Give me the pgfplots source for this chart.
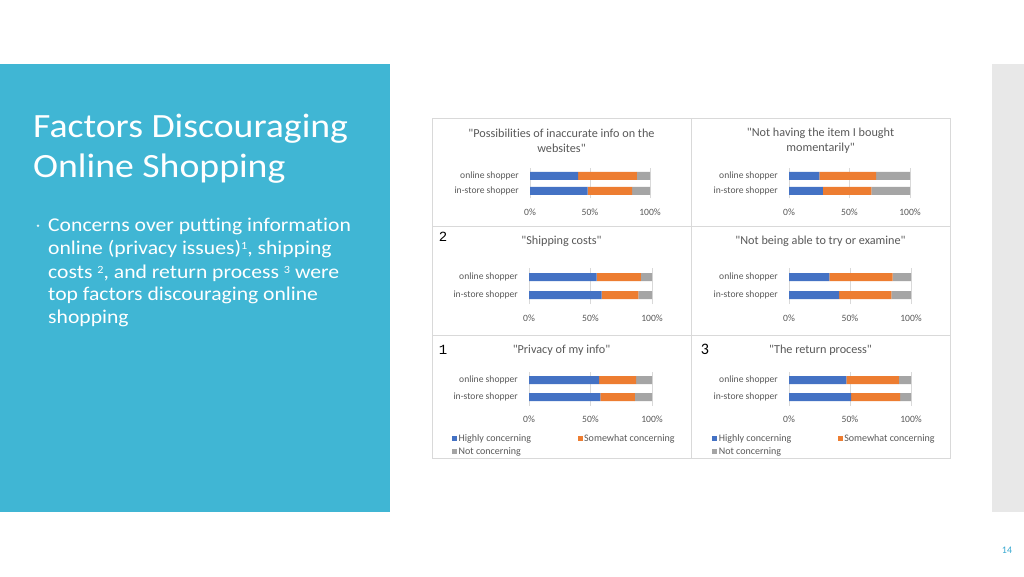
\documentclass[border=0pt]{standalone}
\usepackage{pgfplots}
\pgfplotsset{compat=1.18}
\usepackage{fontspec}
\setmainfont{Carlito}[Ligatures={NoCommon}]
\newfontfamily\slidefont[FakeStretch=1.11, Ligatures={NoCommon}]{Carlito}
\newfontfamily\monofont{Liberation Mono}
\newcommand{\fnsup}[1]{\raisebox{0.55ex}{\fontsize{11}{11}\selectfont #1}}

\definecolor{slideblue}{RGB}{64,182,212}
\definecolor{hiblue}{RGB}{68,114,196}
\definecolor{soorange}{RGB}{237,125,49}
\definecolor{notgray}{RGB}{165,165,165}
\definecolor{txtgray}{RGB}{89,89,89}
\definecolor{gridgray}{RGB}{217,217,217}
\definecolor{stripgray}{RGB}{232,232,232}
\definecolor{pagenum}{RGB}{58,170,210}

\pgfplotsset{
  panel/.style={
    scale only axis,
    anchor=south west,
    xbar stacked,
    bar width=8pt,
    xmin=0, xmax=100,
    ymin=-0.5, ymax=1.5,
    xtick={0,50,100},
    xticklabels={0\%,50\%,100\%},
    ytick={0,1},
    yticklabels={in-store shopper,online shopper},
    axis line style={draw=none},
    major tick length=0pt,
    xmajorgrids,
    grid style={gridgray, line width=0.8pt},
    tick label style={font=\fontsize{9.6}{10}\selectfont, text=txtgray},
    xticklabel style={anchor=center, yshift=-14pt},
    yticklabel style={anchor=east, inner sep=0pt, xshift=-11pt},
    legend columns=2,
    legend cell align=left,
    legend image code/.code={\fill[##1] (0pt,-2.5pt) rectangle (5pt,2.5pt);},
    legend style={anchor=north west, draw=none, fill=none, inner sep=0pt,
      font=\fontsize{10}{11}\selectfont, text=txtgray,
      nodes={inner sep=1.5pt}, row sep=1.5pt,
      /tikz/every even column/.append style={column sep=45pt}},
  },
  hi/.style={fill=hiblue, draw=none},
  so/.style={fill=soorange, draw=none},
  no/.style={fill=notgray, draw=none},
}

\begin{document}
\begin{tikzpicture}[x=1pt,y=1pt]
\fill[white] (0,0) rectangle (1024,576);
\fill[slideblue] (0,64) rectangle (390,512);
\fill[stripgray] (992,64) rectangle (1024,512);
\node[text=pagenum, font=\fontsize{10}{12}\selectfont] at (1007,26) {14};

% left text
\node[anchor=base west, text=white, font=\slidefont\fontsize{34}{40}\selectfont, inner sep=0pt] at (33,438.5) {Factors Discouraging};
\node[anchor=base west, text=white, font=\slidefont\fontsize{34}{40}\selectfont, inner sep=0pt] at (33,398) {Online Shopping};
\fill[white!85!slideblue] (38,350.3) circle (1.4);
\begin{scope}[every node/.style={anchor=base west, text=white, font=\slidefont\fontsize{19.5}{23}\selectfont, inner sep=0pt}]
\node at (48,344.3) {Concerns over putting information};
\node at (48,321) {online (privacy issues)\fnsup{1}, shipping};
\node at (48,297.7) {costs \fnsup{2}, and return process \fnsup{3} were};
\node at (48,275.3) {top factors discouraging online};
\node at (48,252.7) {shopping};
\end{scope}

% chart frames
\fill[white] (432,118) rectangle (950,458);
\draw[gridgray, line width=0.8pt] (432,118) rectangle (950,458);
\draw[gridgray, line width=0.8pt] (691,118) -- (691,458);
\draw[gridgray, line width=0.8pt] (432,350) -- (950,350);
\draw[gridgray, line width=0.8pt] (432,241) -- (950,241);

% titles
\begin{scope}[every node/.style={text=txtgray, font=\fontsize{12.2}{15}\selectfont, align=center}]
\node at (561.5,435.5) {\textquotedbl Possibilities of inaccurate info on the\\websites\textquotedbl};
\node at (820.5,435.5) {\textquotedbl Not having the item I bought\\momentarily\textquotedbl};
\node at (561.5,335) {\textquotedbl Shipping costs\textquotedbl};
\node at (820.5,335) {\textquotedbl Not being able to try or examine\textquotedbl};
\node at (561.5,226) {\textquotedbl Privacy of my info\textquotedbl};
\node at (820.5,226) {\textquotedbl The return process\textquotedbl};
\end{scope}
\node[font=\monofont\fontsize{14}{16}\selectfont] at (443,339) {2};
\node[font=\monofont\fontsize{14}{16}\selectfont] at (443,226) {1};
\node[font=\fontsize{16}{18}\selectfont] at (705,227) {3};

% panel 1
\begin{axis}[panel, at={(530pt,377.5pt)}, width=120pt, height=30pt]
\addplot[hi] coordinates {(48,0) (40,1)};
\addplot[so] coordinates {(37,0) (49,1)};
\addplot[no] coordinates {(15,0) (11,1)};
\end{axis}
% panel 2
\begin{axis}[panel, at={(789pt,377.5pt)}, width=121pt, height=30pt]
\addplot[hi] coordinates {(28,0) (25,1)};
\addplot[so] coordinates {(40,0) (47,1)};
\addplot[no] coordinates {(32,0) (28,1)};
\end{axis}
% panel 3
\begin{axis}[panel, at={(529pt,272pt)}, width=123pt, height=36pt]
\addplot[hi] coordinates {(59,0) (55,1)};
\addplot[so] coordinates {(30,0) (36,1)};
\addplot[no] coordinates {(11,0) (9,1)};
\end{axis}
% panel 4
\begin{axis}[panel, at={(789pt,272pt)}, width=122pt, height=36pt]
\addplot[hi] coordinates {(41,0) (33,1)};
\addplot[so] coordinates {(43,0) (52,1)};
\addplot[no] coordinates {(16,0) (15,1)};
\end{axis}
% panel 5
\begin{axis}[panel, at={(529pt,170.5pt)}, width=123pt, height=34pt,
  legend style={at={(-0.626,-0.81)}}]
\addplot[hi] coordinates {(58,0) (57,1)};
\addlegendentry{Highly concerning}
\addplot[so] coordinates {(28,0) (30,1)};
\addlegendentry{Somewhat concerning}
\addplot[no] coordinates {(14,0) (13,1)};
\addlegendentry{Not concerning}
\end{axis}
% panel 6
\begin{axis}[panel, at={(789pt,170.5pt)}, width=122pt, height=34pt,
  legend style={at={(-0.63,-0.81)}}]
\addplot[hi] coordinates {(51,0) (47,1)};
\addlegendentry{Highly concerning}
\addplot[so] coordinates {(40,0) (43,1)};
\addlegendentry{Somewhat concerning}
\addplot[no] coordinates {(9,0) (10,1)};
\addlegendentry{Not concerning}
\end{axis}
\end{tikzpicture}
\end{document}
